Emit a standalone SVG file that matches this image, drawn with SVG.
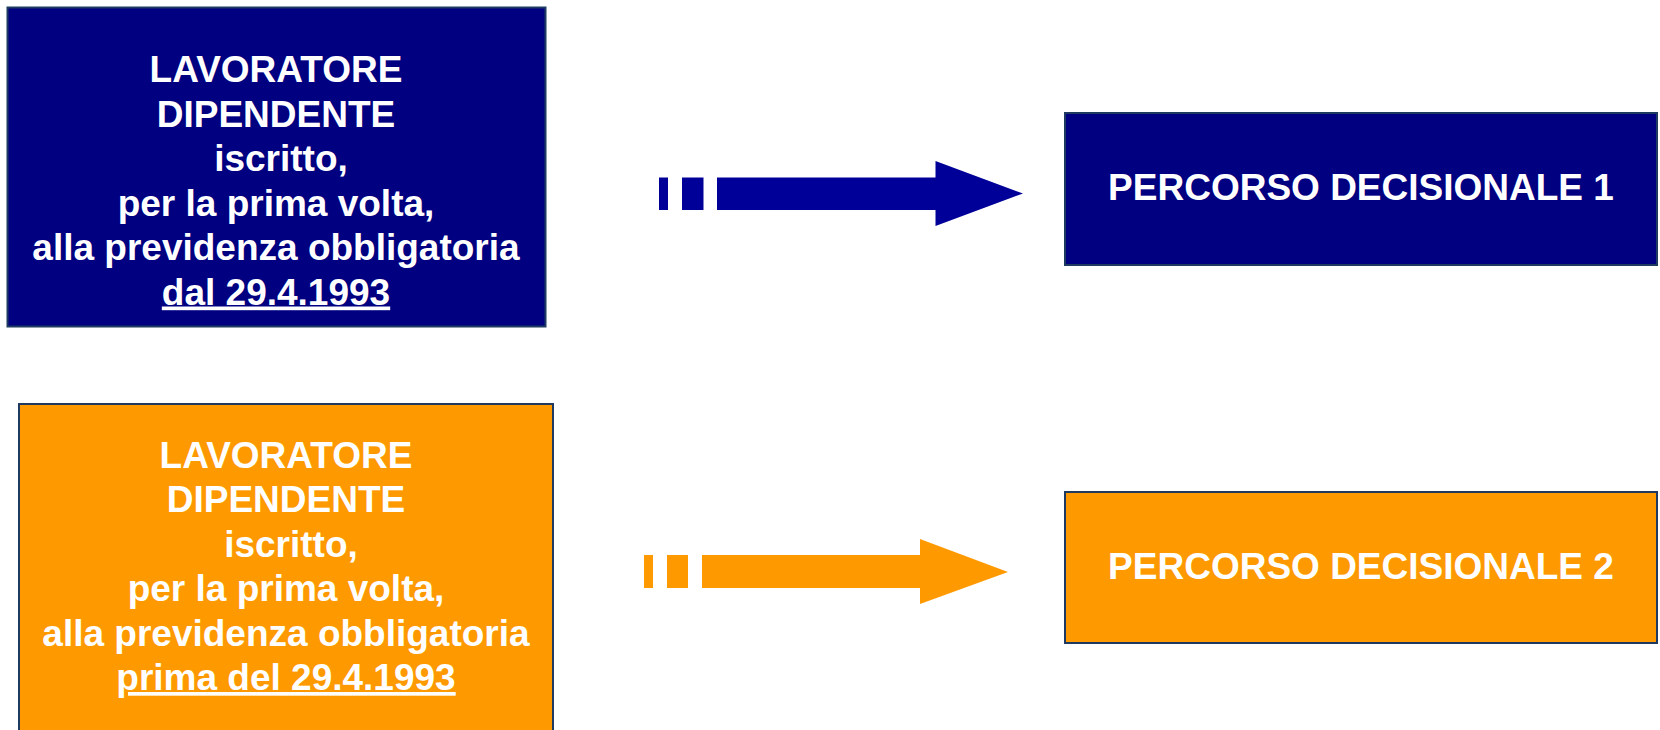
<svg xmlns="http://www.w3.org/2000/svg" width="1660" height="730" viewBox="0 0 1660 730">
  <style>
    .box { stroke: #1F3A60; stroke-width: 2; }
    .navy { fill: #000080; }
    .orange { fill: #FF9900; }
    .t { font-family: "Liberation Sans", Arial, sans-serif; font-weight: bold; font-size: 37px; fill: #FFFFFF; text-anchor: middle; }
    .u { text-decoration: underline; }
  </style>
  <rect width="1660" height="730" fill="#FFFFFF"/>
  <g id="node-dal-1993">
    <rect class="box navy" x="7.5" y="7.5" width="538" height="319"/>
    <text class="t" x="276" y="82">LAVORATORE</text>
    <text class="t" x="276" y="126.5">DIPENDENTE</text>
    <text class="t" x="281" y="171">iscritto,</text>
    <text class="t" x="276" y="215.5">per la prima volta,</text>
    <text class="t" x="276" y="260">alla previdenza obbligatoria</text>
    <text class="t u" x="276" y="304.5">dal 29.4.1993</text>
  </g>
  <g id="node-prima-1993">
    <rect class="box orange" x="19" y="404" width="534" height="340"/>
    <text class="t" x="286" y="467.5">LAVORATORE</text>
    <text class="t" x="286" y="512">DIPENDENTE</text>
    <text class="t" x="291" y="556.5">iscritto,</text>
    <text class="t" x="286" y="601">per la prima volta,</text>
    <text class="t" x="286" y="645.5">alla previdenza obbligatoria</text>
    <text class="t u" x="286" y="690">prima del 29.4.1993</text>
  </g>
  <g id="node-percorso-1">
    <rect class="box navy" x="1065" y="113" width="592" height="152"/>
    <text class="t" x="1361" y="200">PERCORSO DECISIONALE 1</text>
  </g>
  <g id="node-percorso-2">
    <rect class="box orange" x="1065" y="492" width="592" height="151"/>
    <text class="t" x="1361" y="578.5">PERCORSO DECISIONALE 2</text>
  </g>
  <g id="connectors">
    <g fill="#000099">
      <rect x="659" y="177.5" width="9" height="32.5"/>
      <rect x="682" y="177.5" width="21.5" height="32.5"/>
      <polygon points="717,177.5 935.5,177.5 935.5,161 1023,193.5 935.5,226 935.5,210 717,210"/>
    </g>
    <g fill="#FF9900">
      <rect x="644" y="555" width="9" height="33"/>
      <rect x="667" y="555" width="21" height="33"/>
      <polygon points="702,555 920,555 920,539 1008,572 920,604 920,588 702,588"/>
    </g>
  </g>
</svg>
